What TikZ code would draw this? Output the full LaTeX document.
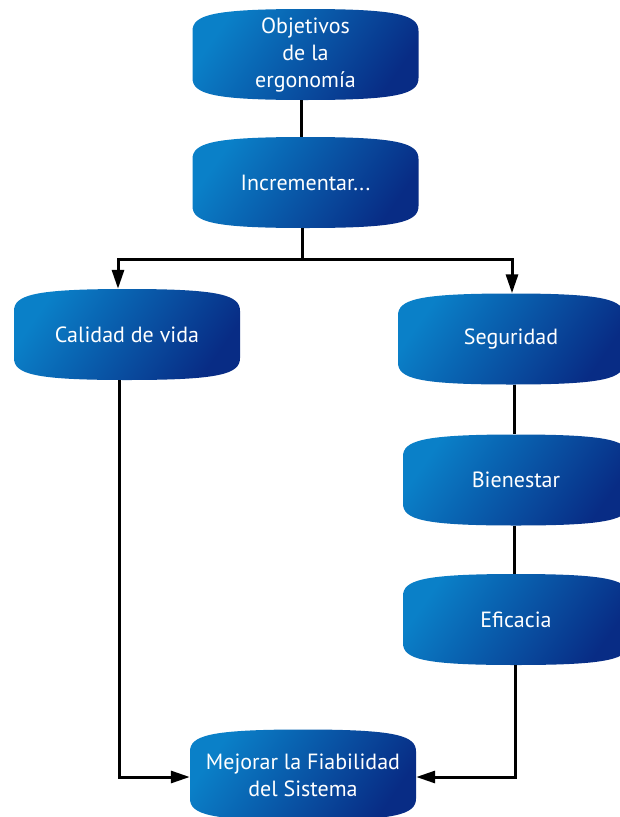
\documentclass[tikz,border=0pt]{standalone}
\usepackage{fontspec}
\setmainfont{PT Sans}
\usetikzlibrary{arrows.meta,calc}
\definecolor{bla}{HTML}{0A80C8}
\definecolor{blb}{HTML}{076BB7}
\definecolor{blc}{HTML}{082C85}
\tikzset{
  boxfill/.style={top color=bla, middle color=blb, bottom color=blc, shading angle=55},
  boxtext/.style={minimum width=226pt, minimum height=91pt, inner sep=0pt, text=white,
     align=center, font=\fontsize{22}{27}\selectfont},
  conn/.style={line width=3pt, black},
  arr/.style={conn, -{Triangle[length=19pt,width=12pt]}},
}
\newcommand\blob[4]{%
  \shade[boxfill, shift={(#2,#3)}]
    (-113,-23.5) .. controls (-113,-39.5) and (-93,-45.5) .. (0,-45.5)
    .. controls (93,-45.5) and (113,-39.5) .. (113,-23.5) -- (113,23.5)
    .. controls (113,39.5) and (93,45.5) .. (0,45.5)
    .. controls (-93,45.5) and (-113,39.5) .. (-113,23.5) -- cycle;
  \node[boxtext] (#1) at (#2,#3) {#4};
}
\begin{document}
\begin{tikzpicture}[x=1pt, y=-1pt]
\useasboundingbox[fill=white] (0,0) rectangle (619,817);
\blob{obj}{305.5}{54.5}{Objetivos\\de la\\ergonomía}
\blob{inc}{305.5}{182.5}{Incrementar...}
\blob{cal}{127}{334.5}{Calidad de vida}
\blob{seg}{511}{339}{Seguridad}
\blob{bie}{516}{480}{Bienestar}
\blob{efi}{516}{619.5}{Eficacia}
\blob{mej}{303}{775}{Mejorar la Fiabilidad\\del Sistema}
\coordinate (j) at (302,259);
\draw[conn] ([xshift=-4pt]obj.south) -- ([xshift=-4pt]inc.north);
\draw[conn] ([xshift=-3.5pt]inc.south) -- (j);
\draw[arr] (j) -| ([xshift=-9pt]cal.north);
\draw[arr] (j) -| ([xshift=1pt]seg.north);
\draw[conn] ([xshift=3pt]seg.south) -- ([xshift=-2pt]bie.north);
\draw[conn] ([xshift=-2pt]bie.south) -- ([xshift=-2pt]efi.north);
\draw[arr] ([xshift=-1pt]efi.south) |- ([yshift=-2pt]mej.east);
\draw[arr] ([xshift=-8pt]cal.south) |- ([yshift=-2pt]mej.west);
\end{tikzpicture}
\end{document}
